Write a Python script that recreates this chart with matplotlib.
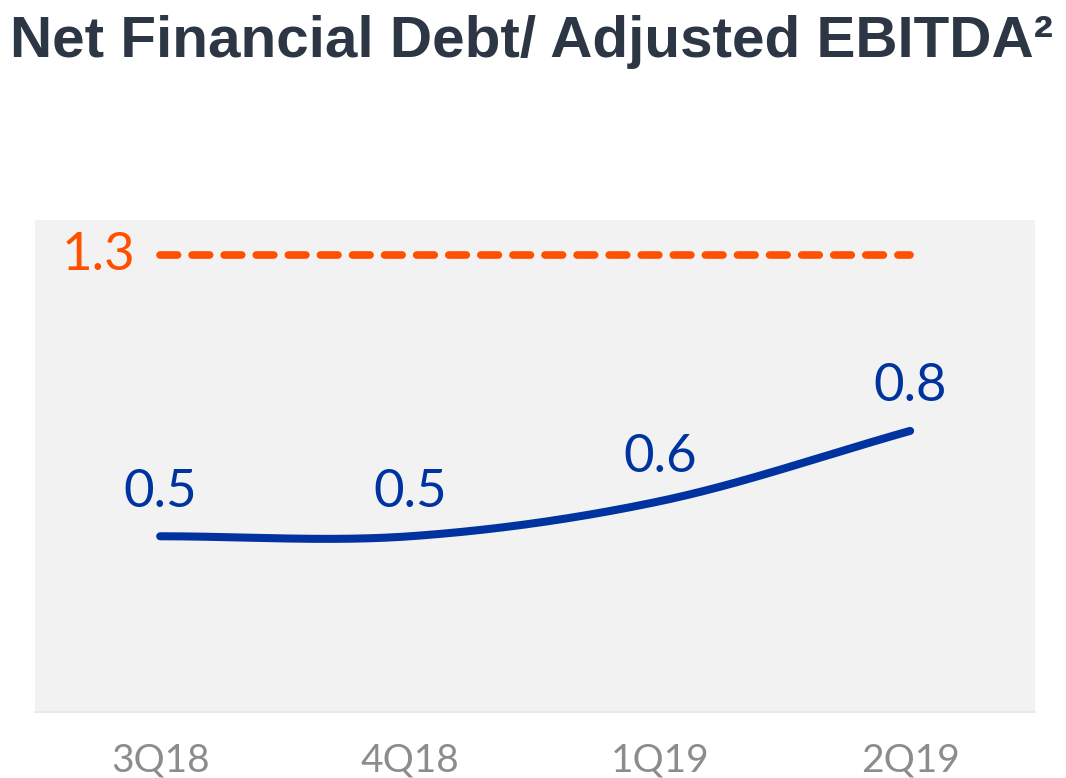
import numpy as np
import matplotlib.pyplot as plt

quarters = ['3Q18', '4Q18', '1Q19', '2Q19']
ratio = [0.5, 0.5, 0.6, 0.8]
target = 1.3

blue = '#0033a0'
orange = '#ff5000'


def smooth(xs, ys, n=60):
    # Catmull-Rom style cubic Hermite through the points
    xs = np.asarray(xs, float)
    ys = np.asarray(ys, float)
    m = np.gradient(ys, xs)
    out_x, out_y = [], []
    for i in range(len(xs) - 1):
        t = np.linspace(0, 1, n)
        h = xs[i + 1] - xs[i]
        h00 = 2 * t**3 - 3 * t**2 + 1
        h10 = t**3 - 2 * t**2 + t
        h01 = -2 * t**3 + 3 * t**2
        h11 = t**3 - t**2
        out_x.append(xs[i] + t * h)
        out_y.append(h00 * ys[i] + h10 * h * m[i] + h01 * ys[i + 1] + h11 * h * m[i + 1])
    return np.concatenate(out_x), np.concatenate(out_y)


fig = plt.figure(figsize=(10.66, 7.78), dpi=100)
ax = fig.add_axes([0.033, 0.085, 0.938, 0.632])
ax.set_facecolor('#f2f2f2')

x = np.arange(len(quarters))
sx, sy = smooth(x, ratio)
ax.plot(sx, sy, color=blue, lw=5.8, solid_capstyle='round')
for xi, v in zip(x, ratio):
    ax.text(xi, v + 0.125, f'{v:.1f}', color=blue, fontsize=38,
            family='Lato', ha='center', va='center')

ax.plot([x[0], x[-1]], [target, target], color=orange, lw=5.5,
        ls=(0, (2.3, 1.9)), dash_capstyle='round')
ax.text(-0.1, target, f'{target:.1f}', color=orange, fontsize=38,
        family='Lato', ha='right', va='center')

ax.set_xlim(-0.5, 3.5)
ax.set_ylim(0, 1.4)
ax.set_xticks(x)
ax.set_xticklabels(quarters, family='Lato', fontweight='normal',
                   fontsize=28, color='#8c8c8c')
ax.tick_params(axis='x', length=0, pad=22)
ax.set_yticks([])
for s in ['top', 'left', 'right']:
    ax.spines[s].set_visible(False)
ax.spines['bottom'].set_color('#e6e6e6')
ax.spines['bottom'].set_linewidth(1.2)

fig.text(0.009, 0.946, 'Net Financial Debt/ Adjusted EBITDA²',
         family='Liberation Sans', fontweight='bold', fontsize=42,
         color='#2d3644', ha='left', va='center')

fig.savefig('out.png', dpi=100)
